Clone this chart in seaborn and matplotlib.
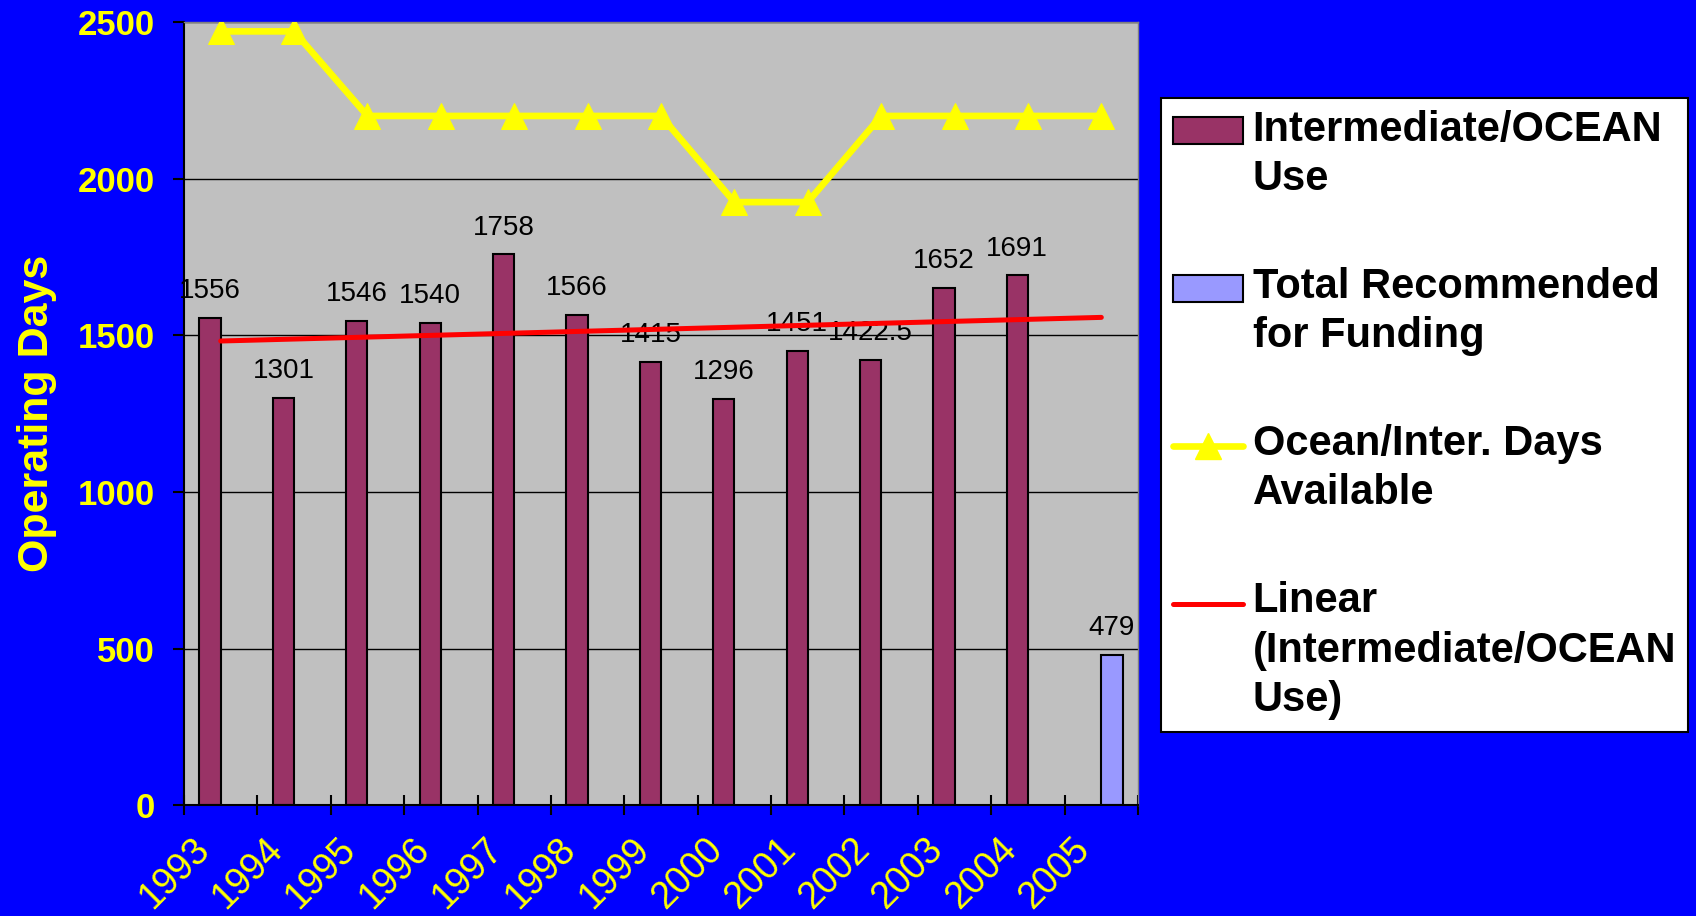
import numpy as np
import pandas as pd
import matplotlib
matplotlib.use("Agg")
import matplotlib.pyplot as plt
from matplotlib.patches import Patch
from matplotlib.lines import Line2D
from matplotlib.transforms import ScaledTranslation, Affine2D
from matplotlib.legend_handler import HandlerBase, HandlerPatch, HandlerLine2D
import seaborn as sns

# data
years = [str(y) for y in range(1993, 2006)]
ocean_use = [1556, 1301, 1546, 1540, 1758, 1566, 1415, 1296, 1451, 1422.5, 1652, 1691, np.nan]
recommended = [np.nan] * 12 + [479]
days_available = [2470, 2470, 2200, 2200, 2200, 2200, 2200, 1925, 1925, 2200, 2200, 2200, 2200]

use_label = "Intermediate/OCEAN\nUse"
rec_label = "Total Recommended\nfor Funding"
avail_label = "Ocean/Inter. Days\nAvailable"
trend_label = "Linear\n(Intermediate/OCEAN\nUse)"

df = pd.DataFrame({
    "year": years * 2,
    "series": ["use"] * 13 + ["rec"] * 13,
    "days": ocean_use + recommended,
})

# linear trendline over the bars (Excel style, extended to 2005)
pos = np.arange(len(years))
ok = ~np.isnan(ocean_use)
coef = np.polyfit(pos[ok], np.array(ocean_use)[ok], 1)
trend = np.polyval(coef, pos)


class Raised(HandlerBase):
    # put the legend key next to the first line of a multi-line label
    def __init__(self, base, dy):
        super().__init__()
        self.base = base
        self.dy = dy

    def create_artists(self, legend, orig_handle, xdescent, ydescent, width,
                       height, fontsize, trans):
        t = Affine2D().translate(0, self.dy * fontsize) + trans
        return self.base.create_artists(legend, orig_handle, xdescent, ydescent,
                                        width, height, fontsize, t)


sns.set_style("white")
plt.rcParams["font.family"] = ["Liberation Sans", "DejaVu Sans"]
plt.rcParams["text.color"] = "black"

fig = plt.figure(figsize=(16.96, 9.16), dpi=100, facecolor="#0000FF")
ax = fig.add_axes([0.1085, 0.121, 0.5625, 0.855])
ax.set_facecolor("#C0C0C0")

sns.barplot(data=df, x="year", y="days", hue="series", order=years,
            hue_order=["use", "rec"], palette={"use": "#993366", "rec": "#9999FF"},
            width=0.58, saturation=1, edgecolor="black", linewidth=1.5,
            errorbar=None, legend=False, ax=ax)

for cont in ax.containers:
    ax.bar_label(cont, fmt="{:g}", padding=10, fontsize=20, color="black")

sns.lineplot(x=pos, y=days_available, color="#FFFF00", marker="^", markersize=19,
             markeredgecolor="#FFFF00", linewidth=4.8, ax=ax, zorder=4)
sns.lineplot(x=pos, y=trend, color="#FF0000", linewidth=3.6,
             solid_capstyle="round", ax=ax, zorder=3)

ax.set_xlim(-0.5, 12.5)
ax.set_ylim(0, 2500)
ax.set_yticks(range(0, 2501, 500))
ax.set_axisbelow(True)
ax.yaxis.grid(True, color="black", linewidth=1)
ax.xaxis.grid(False)

for side in ["left", "bottom"]:
    ax.spines[side].set_color("black")
    ax.spines[side].set_linewidth(1.5)
for side in ["top", "right"]:
    ax.spines[side].set_color("#808080")
    ax.spines[side].set_linewidth(1)

ax.tick_params(axis="y", direction="out", length=8, width=1.5, color="black",
               pad=13, labelsize=25, labelcolor="#FFFF00", left=True)
for lab in ax.get_yticklabels():
    lab.set_fontweight("bold")

ax.set_xticks(pos)
ax.set_xticklabels(years, rotation=45, ha="right", rotation_mode="anchor")
ax.tick_params(axis="x", which="major", length=0, pad=19, labelsize=27,
               labelcolor="#FFFF00")
ax.set_xticks(np.arange(-0.5, 13, 1), minor=True)
ax.tick_params(axis="x", which="minor", direction="inout", length=14, width=1.5,
               color="black", bottom=True)
shift = ScaledTranslation(-0.3, 0, fig.dpi_scale_trans)
for lab in ax.get_xticklabels():
    lab.set_transform(lab.get_transform() + shift)

ax.set_xlabel("")
ax.set_ylabel("Operating Days", fontsize=31, fontweight="bold", color="#FFFF00")
ax.yaxis.set_label_coords(-0.133, 0.5)

handles = [
    Patch(facecolor="#993366", edgecolor="black", linewidth=1.5),
    Patch(facecolor="#9999FF", edgecolor="black", linewidth=1.5),
    Line2D([], [], color="#FFFF00", marker="^", markersize=19, linewidth=4.8),
    Line2D([], [], color="#FF0000", linewidth=3.6, solid_capstyle="round"),
]
two_line = 0.58
hmap = {
    handles[0]: Raised(HandlerPatch(), two_line),
    handles[1]: Raised(HandlerPatch(), two_line),
    handles[2]: Raised(HandlerLine2D(), two_line),
    handles[3]: Raised(HandlerLine2D(), 2 * two_line),
}
leg = fig.legend(handles, [use_label, rec_label, avail_label, trend_label],
                 handler_map=hmap,
                 loc="upper left", bbox_to_anchor=(0.6846, 0.893),
                 bbox_transform=fig.transFigure, borderaxespad=0,
                 prop={"size": 30, "weight": "bold"}, frameon=True,
                 fancybox=False, framealpha=1, edgecolor="black",
                 handlelength=1.68, handleheight=0.62, handletextpad=0.24,
                 borderpad=0.28, labelspacing=1.63)
leg.get_frame().set_linewidth(1.5)
for t in leg.get_texts():
    t.set_linespacing(1.3)
    t.set_color("black")

fig.savefig("out.png", dpi=100, facecolor=fig.get_facecolor())
